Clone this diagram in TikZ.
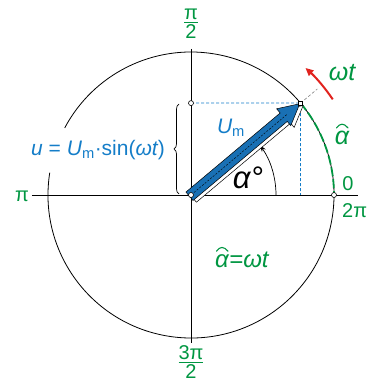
\documentclass[tikz,border=0pt]{standalone}
\usepackage{amsmath}
\usepackage{fontspec}
\setmainfont{Liberation Sans}
\usetikzlibrary{arrows.meta,decorations.pathreplacing}
\definecolor{grn}{RGB}{0,150,65}
\definecolor{blu}{RGB}{20,125,200}
\definecolor{arrblu}{RGB}{25,112,180}
\definecolor{rd}{RGB}{225,35,30}
\newcommand{\fsz}[1]{\fontsize{#1}{#1}\selectfont}
\newcommand{\myfrac}[2]{$\genfrac{}{}{1.2pt}{1}{\hbox{#1}}{\hbox{#2}}$}
\begin{document}
\begin{tikzpicture}[x=1pt,y=1pt,
  mk/.style={circle,draw,fill=white,inner sep=0pt,minimum size=5pt,line width=0.6pt},
  mksq/.style={rectangle,draw,fill=white,inner sep=0pt,minimum size=4.5pt,line width=0.6pt},
  lbl/.style={inner sep=0pt,text=grn,font=\fsz{20}},
  hatline/.style={grn,line width=1.1pt,line cap=round},
  thin/.style={line width=0.8pt}]
\useasboundingbox (-191,-187) rectangle (175,195);
% circle with gap on the left
\draw[thin] (171:143) arc[start angle=171,end angle=512,radius=143];
% axes
\coordinate (xl) at (-159,0);
\coordinate (xr) at (167,0);
\coordinate (yt) at (0,146);
\coordinate (yb) at (0,-148);
\draw[thin] (xl) -- (xr);
\draw[thin] (yt) -- (yb);
% points
\coordinate (Pc) at (40:143);
\coordinate (Pfoot) at (109.5,0);
\coordinate (Pext) at (40:165);
% blue projections
\draw[blu,line width=0.8pt,dash pattern=on 3pt off 2pt] (0,91.9) -- (Pc);
\draw[blu,line width=0.8pt,dash pattern=on 3pt off 2pt] (Pc) -- (Pfoot);
% green arc
\draw[grn,line width=1.8pt,dash pattern=on 9pt off 3pt] (40:143) arc[start angle=40,end angle=0,radius=143];
% alpha arc
\draw[line width=0.7pt,-{Stealth[length=7pt,width=4.5pt]}] (85,0) arc[start angle=0,end angle=36,radius=85];
% gray extension
\draw[gray,line width=0.6pt,dash pattern=on 3pt off 2pt] (Pc) -- (Pext);
% red rotation arrow
\draw[rd,line width=2pt,-{Triangle[length=8pt,width=7pt]}] (34:171) arc[start angle=34,end angle=48,radius=171];
% phasor arrow
\begin{scope}[rotate=40]
\filldraw[fill=white,draw=black,line width=0.5pt,shift={(1.5,-3.5)}] (-2,-5.5) -- (121,-5.5) -- (121,-11) -- (142,0) -- (121,11) -- (121,5.5) -- (-2,5.5) -- cycle;
\filldraw[fill=arrblu,draw=black,line width=0.5pt] (-2,-5.5) -- (121,-5.5) -- (121,-11) -- (142,0) -- (121,11) -- (121,5.5) -- (-2,5.5) -- cycle;
\draw[line width=0.4pt,dash pattern=on 2pt off 1.5pt] (4,0) -- (126,0);
\end{scope}
% brace
\draw[decorate,decoration={brace,amplitude=5pt},line width=0.7pt] (-12,1) -- (-12,91);
% markers
\node[mk] (O) at (0,0) {};
\node[mk] (Y) at (0,91.9) {};
\node[mksq] (P) at (Pc) {};
\node[mk] (X) at (143,0) {};
% labels
\node[lbl] (pihalf) at (0,171) {\myfrac{π}{2}};
\node[lbl] (threepihalf) at (0,-167) {\myfrac{3π}{2}};
\node[lbl] (pi) at (-169,-1) {π};
\node[lbl] (zero) at (157,11.5) {0};
\node[lbl,anchor=west] (twopi) at (151,-16) {2π};
\node[lbl,font=\fsz{25}\itshape] (omt) at (151,122) {ωt};
\node[lbl,font=\fsz{25}\itshape] (ah) at (151,57) {α};
\draw[hatline] ([xshift=-5.5pt,yshift=3pt]ah.north) .. controls ([xshift=-2pt,yshift=8pt]ah.north) and ([xshift=2pt,yshift=8pt]ah.north) .. ([xshift=6pt,yshift=3pt]ah.north);
\node[lbl,font=\fsz{24}\itshape] (eqa) at (31,-66) {α};
\node[lbl,font=\fsz{24}\itshape,anchor=base west] (eqb) at (eqa.base east) {=ωt};
\draw[hatline] ([xshift=-5.5pt,yshift=3pt]eqa.north) .. controls ([xshift=-2pt,yshift=8pt]eqa.north) and ([xshift=2pt,yshift=8pt]eqa.north) .. ([xshift=6pt,yshift=3pt]eqa.north);
\node[inner sep=0pt,font=\fsz{31}\itshape] (al) at (57,17) {α°};
\node[inner sep=0pt,text=blu,font=\fsz{21}\itshape] (um) at (40,67) {U\textsubscript{\upshape m}};
\node[inner sep=0pt,text=blu,font=\fsz{21}] (ueq) at (-93,45) {\itshape u\upshape{} = \itshape U\textsubscript{\upshape m}\upshape·sin(\itshape ωt\upshape)};
\end{tikzpicture}
\end{document}
